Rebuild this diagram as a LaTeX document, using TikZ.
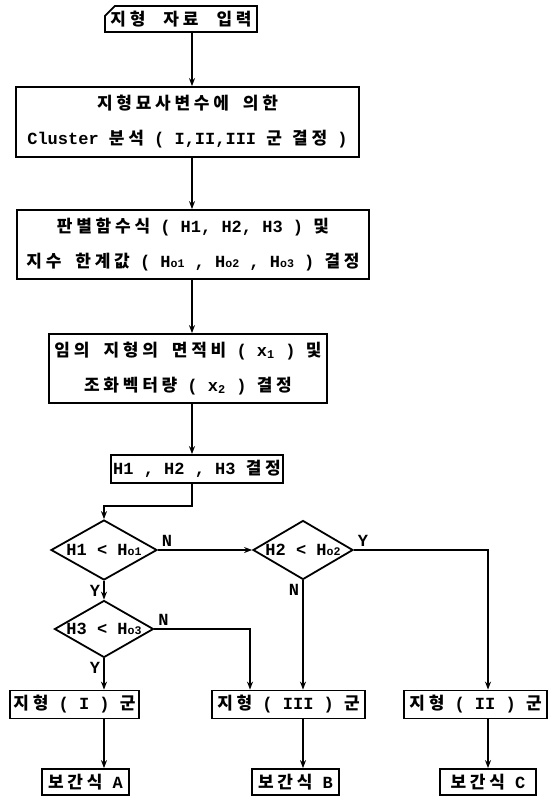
\documentclass[tikz,border=0pt]{standalone}
\usepackage{fontspec}
\setmainfont{Liberation Mono}
\newfontfamily\kr{Noto Sans CJK KR}[LetterSpace=22]
\usepackage{tikz}
\usetikzlibrary{arrows.meta,positioning,shapes.geometric,shapes.misc}
\newcommand{\hg}[1]{{\kr #1}}
\newcommand{\Ho}[1]{H{\fontsize{5.8}{6}\selectfont o#1}}

\begin{document}
\begin{tikzpicture}[x=0.5pt, y=-0.5pt, line width=0.9pt,
  font=\bfseries\fontsize{8.5}{10}\selectfont,
  box/.style={draw, rectangle, inner sep=0pt, align=center},
  twoline/.style={box, font=\bfseries\fontsize{8.5}{17.5}\selectfont},
  card/.style={draw, chamfered rectangle, chamfered rectangle corners=north west,
    chamfered rectangle xsep=2.5pt, chamfered rectangle ysep=2.5pt, inner sep=0pt},
  test/.style={draw, diamond, aspect=1.8, inner sep=0pt},
  lbl/.style={inner sep=1.5pt},
  arr/.style={-{Stealth[length=4pt,width=3pt]}}]
\useasboundingbox (0,0) rectangle (551,802);
\coordinate (spine) at (192,0);
\coordinate (lin3) at (250,0);
% main column
\node[card, minimum width=76pt, minimum height=10pt] (inp) at (181,19)
  {\hg{지형}\hspace{9pt}\hg{자료}\hspace{9pt}\hg{입력}};
\node[twoline, minimum width=171.5pt, minimum height=35pt] (clus) at (187.5,122)
  {\hg{지형묘사변수에}\hspace{7pt}\hg{의한}\\Cluster \hg{분석} ( I,II,III \hg{군} \hg{결정} )};
\node[twoline, minimum width=176pt, minimum height=34.5pt] (disc) at (193,244.5)
  {\hg{판별함수식} ( H1, H2, H3 ) \hg{및}\\\hg{지수}\hspace{7pt}\hg{한계값} ( \Ho{1} , \Ho{2} , \Ho{3} ) \hg{결정}};
\node[twoline, minimum width=139pt, minimum height=34.5pt] (feat) at (188,368.5)
  {\hg{임의}\hspace{7pt}\hg{지형의}\hspace{7pt}\hg{면적비} ( x\textsubscript{1} ) \hg{및}\\\hg{조화벡터량} ( x\textsubscript{2} ) \hg{결정}};
\node[box, minimum width=86pt, minimum height=14pt] (hset) at (197,469)
  {H1 , H2 , H3 \hg{결정}};
% tests
\node[test, minimum width=53pt, minimum height=30pt] (dec1) at (104,550) {H1 < \Ho{1}};
\node[test, minimum width=50pt, minimum height=29.5pt] (dec2) at (303,550) {H2 < \Ho{2}};
\node[test, minimum width=49.5pt, minimum height=28.5pt] (dec3) at (104,629) {H3 < \Ho{3}};
% groups
\node[box, minimum width=64.5pt, minimum height=14pt] (grp1) at (74.5,704.5) {\hg{지형} ( I ) \hg{군}};
\node[box, minimum width=76.5pt, minimum height=14pt] (grp3) at (288.5,704.5) {\hg{지형} ( III ) \hg{군}};
\node[box, minimum width=71.5pt, minimum height=14pt] (grp2) at (475.5,704.5) {\hg{지형} ( II ) \hg{군}};
\node[box, minimum width=43.5pt, minimum height=13pt] (intA) at (85.5,782) {\hg{보간식} A};
\node[box, minimum width=43.5pt, minimum height=13pt] (intB) at (295.5,782) {\hg{보간식} B};
\node[box, minimum width=48pt, minimum height=13pt] (intC) at (488,782) {\hg{보간식} C};
% arrows
\draw[arr] (inp.south -| spine) -- (clus.north -| spine);
\draw[arr] (clus.south -| spine) -- (disc.north -| spine);
\draw[arr] (disc.south -| spine) -- (feat.north -| spine);
\draw[arr] (feat.south -| spine) -- (hset.north -| spine);
\draw[arr] (hset.south -| spine) -- ++(0,22) -| (dec1.north);
\draw[arr] (dec1.east) -- node[lbl, above right, pos=0] (n1) {N} (dec2.west);
\draw[arr] (dec1.south) -- node[lbl, below left, pos=0] (y1) {Y} (dec3.north);
\draw[arr] (dec2.east) -| node[lbl, above right, pos=0] (y2) {Y} (grp2.north -| intC.north);
\draw[arr] (dec2.south) -- node[lbl, below left, pos=0] (n2) {N} (dec2.south |- grp3.north);
\draw[arr] (dec3.east) -| node[lbl, above right, pos=0] (n3) {N} (grp3.north -| lin3);
\draw[arr] (dec3.south) -- node[lbl, below left, pos=0] (y3) {Y} (dec3.south |- grp1.north);
\draw[arr] (grp1.south -| dec3.south) -- (intA.north -| dec3.south);
\draw[arr] (grp3.south -| dec2.south) -- (intB.north -| dec2.south);
\draw[arr] (grp2.south -| intC.north) -- (intC.north);
\end{tikzpicture}
\end{document}
